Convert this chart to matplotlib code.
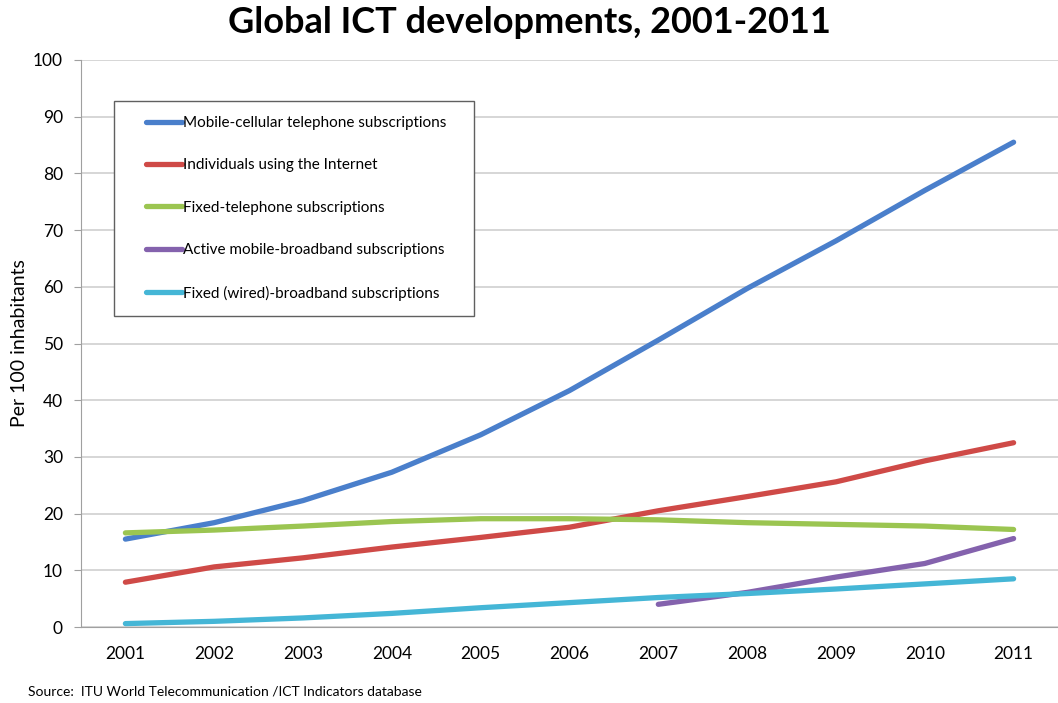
import matplotlib.pyplot as plt
from matplotlib.patches import Rectangle

years = [2001, 2002, 2003, 2004, 2005, 2006, 2007, 2008, 2009, 2010, 2011]
mobile_cellular = [15.5, 18.4, 22.3, 27.3, 33.9, 41.7, 50.6, 59.7, 68.1, 77.0, 85.5]
internet_users = [7.9, 10.6, 12.2, 14.1, 15.8, 17.6, 20.5, 23.0, 25.6, 29.3, 32.5]
fixed_telephone = [16.6, 17.1, 17.8, 18.6, 19.1, 19.1, 18.9, 18.4, 18.1, 17.8, 17.2]
mb_years = [2007, 2008, 2009, 2010, 2011]
mobile_broadband = [4.0, 6.1, 8.8, 11.2, 15.6]
fixed_broadband = [0.6, 1.0, 1.6, 2.4, 3.4, 4.3, 5.2, 5.9, 6.7, 7.6, 8.5]

plt.rcParams['font.family'] = ['Lato', 'DejaVu Sans']

fig = plt.figure(figsize=(10.58, 7.03), dpi=100)
ax = fig.add_axes([81 / 1058, 76 / 703, 977 / 1058, 567 / 703])

lw = 3.8
ax.plot(years, mobile_cellular, color='#4A7FCB', lw=lw, solid_capstyle='round',
        label='Mobile-cellular telephone subscriptions')
ax.plot(years, internet_users, color='#CF4A47', lw=lw, solid_capstyle='round',
        label='Individuals using the Internet')
ax.plot(years, fixed_telephone, color='#9BC551', lw=lw, solid_capstyle='round',
        label='Fixed-telephone subscriptions')
ax.plot(mb_years, mobile_broadband, color='#8462AD', lw=lw, solid_capstyle='round',
        label='Active mobile-broadband subscriptions')
ax.plot(years, fixed_broadband, color='#45B6D6', lw=lw, solid_capstyle='round',
        label='Fixed (wired)-broadband subscriptions')

ax.set_xlim(2000.5, 2011.5)
ax.set_ylim(0, 100)
ax.set_xticks(years)
ax.set_yticks(range(0, 101, 10))
ax.grid(axis='y', color='#D0D0D0', lw=1.2)
ax.set_axisbelow(True)
for s in ['top', 'right']:
    ax.spines[s].set_visible(False)
for s in ['left', 'bottom']:
    ax.spines[s].set_color('#A0A0A0')
ax.tick_params(axis='both', labelsize=12.5, colors='#A0A0A0', labelcolor='black')
ax.tick_params(axis='x', length=0, pad=14)
ax.tick_params(axis='y', length=5, pad=8)
ax.set_ylabel('Per 100 inhabitants', fontsize=14)
ax.yaxis.set_label_coords(-0.054, 0.5)

# legend frame drawn separately so the inner padding can match
ax.add_patch(Rectangle((33 / 977, 311 / 567), 360 / 977, 215 / 567,
                       transform=ax.transAxes, fill=True, facecolor='white',
                       edgecolor='#606060', lw=1.0, zorder=4))
leg = ax.legend(loc='upper left', bbox_to_anchor=(65 / 977, 511 / 567), fontsize=11,
                frameon=False, handlelength=2.35, handletextpad=0.1,
                labelspacing=1.86, borderpad=0, borderaxespad=0)
leg.set_zorder(5)

fig.text(0.5, 0.968, 'Global ICT developments, 2001-2011', ha='center', va='center',
         fontsize=26, fontweight='bold')
fig.text(28 / 1058, 11 / 703, 'Source:  ITU World Telecommunication /ICT Indicators database',
         fontsize=10, va='center')

fig.savefig('out.png', dpi=100)
